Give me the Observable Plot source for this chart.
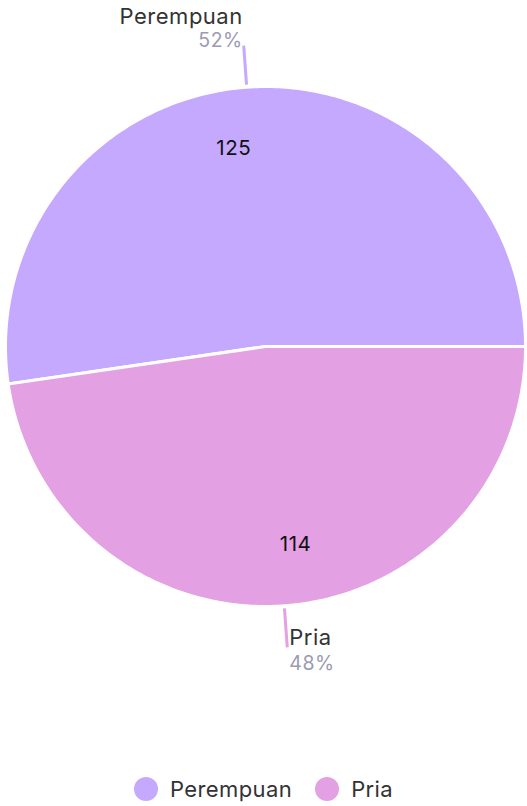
<!DOCTYPE html>
<html>
<head>
<meta charset="utf-8">
<script src="https://cdn.jsdelivr.net/npm/d3@7"></script>
<script src="https://cdn.jsdelivr.net/npm/@observablehq/plot@0.6"></script>
<style>
  html, body { margin: 0; padding: 0; background: #fff; }
  body { width: 527px; font-family: Inter, "Noto Sans", sans-serif; }
  #legend { display: flex; justify-content: center; align-items: center; gap: 23px; height: 58px; font-size: 22px; letter-spacing: 0.4px; color: #333; }
  .item { display: flex; align-items: center; gap: 12px; }
  .dot { width: 24px; height: 24px; border-radius: 50%; display: inline-block; }
</style>
</head>
<body>
<div id="chart"></div>
<div id="legend"></div>
<script>
const categories = ["Perempuan", "Pria"];
const values = [125, 114];
const colors = ["#c5a9ff", "#e3a0e2"];

const total = d3.sum(values);
const arcs = d3.pie().sort(null)
  .startAngle(Math.PI / 2)
  .endAngle(Math.PI / 2 - 2 * Math.PI)(values);

// slice polygons (unit circle coordinates)
const slicePts = [];
arcs.forEach((a, i) => {
  const N = 240;
  slicePts.push({name: categories[i], x: 0, y: 0});
  for (let k = 0; k <= N; k++) {
    const t = a.startAngle + (a.endAngle - a.startAngle) * k / N;
    slicePts.push({name: categories[i], x: Math.sin(t), y: Math.cos(t)});
  }
  slicePts.push({name: categories[i], x: 0, y: 0});
});

const labels = arcs.map((a, i) => {
  const m = (a.startAngle + a.endAngle) / 2;
  return {
    name: categories[i],
    value: values[i],
    pct: Math.round(values[i] / total * 100) + "%",
    sx: Math.sin(m), sy: Math.cos(m),
    top: Math.cos(m) > 0,
    left: Math.sin(m) < 0
  };
});
const r1 = 1.01, r2 = 1.16, rv = 0.765;

const chart = Plot.plot({
  width: 527,
  height: 760,
  margin: 0,
  x: {domain: [-1, 1], range: [5, 525], axis: null},
  y: {domain: [-1, 1], range: [606, 86], axis: null},
  color: {domain: categories, range: colors},
  style: {fontFamily: "Inter, 'Noto Sans', sans-serif"},
  marks: [
    Plot.line(slicePts, {x: "x", y: "y", z: "name", fill: "name", stroke: "white", strokeWidth: 3, curve: "linear"}),
    Plot.link(labels, {
      x1: d => d.sx * r1, y1: d => d.sy * r1,
      x2: d => d.sx * r2, y2: d => d.sy * r2,
      stroke: "name", strokeWidth: 3
    }),
    // value labels inside slices
    Plot.text(labels.filter(d => d.left), {x: d => d.sx * rv, y: d => d.sy * rv, text: d => String(d.value), textAnchor: "end", fontSize: 20.5, fill: "#111"}),
    Plot.text(labels.filter(d => !d.left), {x: d => d.sx * rv, y: d => d.sy * rv, text: d => String(d.value), textAnchor: "start", fontSize: 20.5, fill: "#111"}),
    // outer labels, upper half
    Plot.text(labels.filter(d => d.top), {x: d => d.sx * r2, y: d => d.sy * r2, text: "name", textAnchor: "end", dx: -1, dy: -29, fontSize: 22, fill: "#333"}),
    Plot.text(labels.filter(d => d.top), {x: d => d.sx * r2, y: d => d.sy * r2, text: "pct", textAnchor: "end", dx: -1, dy: -5, fontSize: 19.5, fill: "#9b9bb3"}),
    // outer labels, lower half
    Plot.text(labels.filter(d => !d.top), {x: d => d.sx * r2, y: d => d.sy * r2, text: "name", textAnchor: "start", dx: 2, dy: -9, fontSize: 22, fill: "#333"}),
    Plot.text(labels.filter(d => !d.top), {x: d => d.sx * r2, y: d => d.sy * r2, text: "pct", textAnchor: "start", dx: 2, dy: 16, fontSize: 19.5, fill: "#9b9bb3"})
  ]
});
chart.querySelectorAll("text").forEach(t => t.style.letterSpacing = "0.5px");
document.getElementById("chart").appendChild(chart);

const legend = document.getElementById("legend");
categories.forEach((c, i) => {
  const item = document.createElement("div");
  item.className = "item";
  const dot = document.createElement("span");
  dot.className = "dot";
  dot.style.background = colors[i];
  const txt = document.createElement("span");
  txt.textContent = c;
  item.appendChild(dot);
  item.appendChild(txt);
  legend.appendChild(item);
});
</script>
</body>
</html>
